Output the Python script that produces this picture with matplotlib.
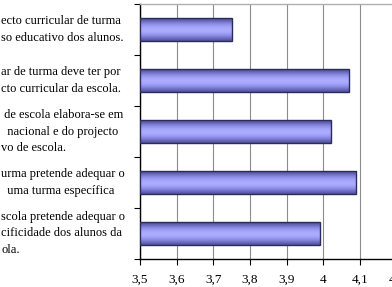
import matplotlib
matplotlib.use("Agg")
import matplotlib.pyplot as plt
import numpy as np
from matplotlib.colors import LinearSegmentedColormap
from matplotlib.ticker import FuncFormatter
import matplotlib.transforms as mtransforms

plt.rcParams['font.family'] = ['Liberation Serif', 'DejaVu Serif']

categories = [
    "ecto curricular de turma\nso educativo dos alunos.",
    "ar de turma deve ter por\ncto curricular da escola.",
    " de escola elabora-se em\n  nacional e do projecto\nvo de escola.",
    "urma pretende adequar o\n  uma turma específica",
    "scola pretende adequar o\ncificidade dos alunos da\nola.",
]
values = [3.75, 4.07, 4.02, 4.09, 3.99]
xticks = [3.5, 3.6, 3.7, 3.8, 3.9, 4.0, 4.1, 4.2]

W, H = 392, 287
fig = plt.figure(figsize=(W / 100, H / 100), dpi=100)
ax = fig.add_axes([140 / W, (H - 259) / H, 256.7 / W, 255 / H])

y = np.arange(len(categories))
bars = ax.barh(y, [v - 3.5 for v in values], left=3.5, height=0.44,
               color='none', edgecolor='#2c2c5c', linewidth=1.0, zorder=4)

grad_colors = ['#4a4a90', '#6a6abc', '#8c8ce6', '#a2a2f8', '#aeaeff',
               '#a6a6fc', '#9090ec', '#7070c2', '#50509a']
cmap = LinearSegmentedColormap.from_list('barg', grad_colors)
grad = np.linspace(0, 1, 64).reshape(-1, 1)
for b in bars:
    x0, y0 = b.get_x(), b.get_y()
    x1, y1 = x0 + b.get_width(), y0 + b.get_height()
    im = ax.imshow(grad, extent=(x0, x1, y1, y0), aspect='auto', cmap=cmap,
                   zorder=3, interpolation='bilinear')
    im.set_clip_path(b)

ax.set_xlim(3.5, 4.2)
ax.set_ylim(len(categories) - 0.5, -0.5)

ax.set_xticks(xticks)
ax.xaxis.set_major_formatter(FuncFormatter(
    lambda v, p: (f"{v:.1f}".rstrip('0').rstrip('.')).replace('.', ',')))
ax.set_yticks(np.arange(-0.5, len(categories), 1.0))
ax.set_yticklabels([])
ax.tick_params(axis='x', direction='out', length=4, width=0.8, labelsize=9.5,
               pad=6.5, colors='black')
ax.tick_params(axis='y', direction='out', length=4, width=0.8)

ax.grid(axis='x', color='#8c8c8c', linewidth=0.8, zorder=1)
ax.set_axisbelow(True)

for s in ['left', 'bottom']:
    ax.spines[s].set_color('black')
    ax.spines[s].set_linewidth(1.0)
ax.spines['top'].set_color('#b0b0b0')
ax.spines['top'].set_linewidth(1.0)
ax.spines['right'].set_visible(False)

trans = mtransforms.blended_transform_factory(fig.transFigure, ax.transData)
for i, lab in enumerate(categories):
    fig.text(1 / W, y[i], lab, transform=trans, ha='left', va='center',
             fontsize=9, linespacing=1.55)

fig.savefig('out.png', dpi=100)
